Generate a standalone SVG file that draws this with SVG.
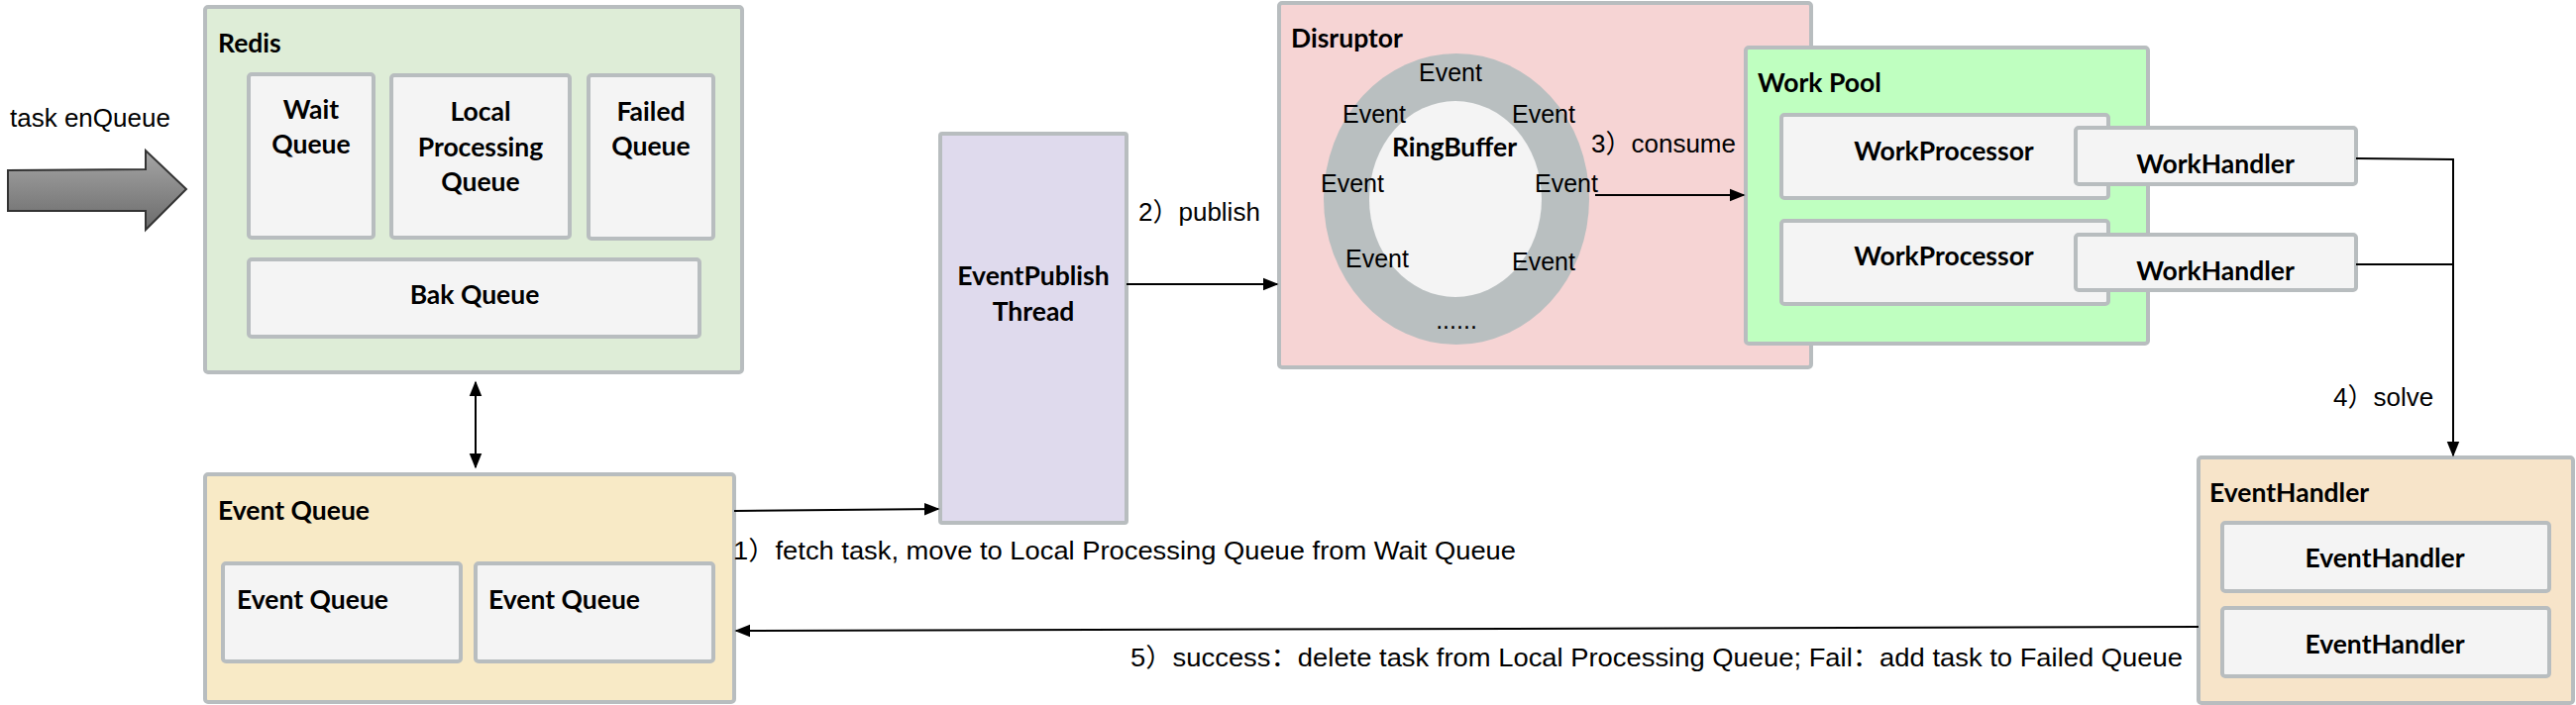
<svg xmlns="http://www.w3.org/2000/svg" width="2600" height="712" viewBox="0 0 2600 712">
<defs>
<linearGradient id="gArrow" x1="0" y1="0" x2="0" y2="1">
<stop offset="0" stop-color="#a6a6a6"/>
<stop offset="1" stop-color="#6b6b6b"/>
</linearGradient>
<marker id="ahb" viewBox="0 0 10 10" refX="9" refY="5" markerWidth="16" markerHeight="16" orient="auto-start-reverse" markerUnits="userSpaceOnUse">
<path d="M0,1 L10,5 L0,9 Z" fill="#000"/>
</marker>
</defs>
<style>
.box{stroke:#b8bdbf;stroke-width:4}
.inner{fill:#f4f4f4;stroke:#b8bdbf;stroke-width:4}
.t{font-family:Lato,"Noto Sans",sans-serif;font-weight:bold;font-size:26.5px;fill:#000}
.tc{text-anchor:middle}
.n{font-family:"Liberation Sans",Arial,"Noto Sans CJK SC",sans-serif;font-size:26px;fill:#000}
.ev{font-family:"Liberation Sans",Arial,sans-serif;font-size:25px;fill:#000}
.ln{fill:none;stroke:#000;stroke-width:2}
</style>
<rect width="2600" height="712" fill="#fff"/>

<g id="taskEnqueue">
<text class="n" x="10" y="128">task enQueue</text>
<path d="M8,172 L147,171 L147,152 L188,191 L147,232 L147,213 L8,213 Z" fill="url(#gArrow)" stroke="#333" stroke-width="2"/>
</g>

<g id="redis">
<rect class="box" x="207" y="7" width="542" height="369" rx="3" fill="#deedd7"/>
<text class="t" x="220" y="53">Redis</text>
<g id="waitQueue">
<rect class="inner" x="251" y="75" width="126" height="165" rx="3"/>
<text class="t tc" x="314" y="120">Wait</text>
<text class="t tc" x="314" y="155">Queue</text>
</g>
<g id="localProcessingQueue">
<rect class="inner" x="395" y="76" width="180" height="164" rx="3"/>
<text class="t tc" x="485" y="122">Local</text>
<text class="t tc" x="485" y="158">Processing</text>
<text class="t tc" x="485" y="193">Queue</text>
</g>
<g id="failedQueue">
<rect class="inner" x="594" y="76" width="126" height="165" rx="3"/>
<text class="t tc" x="657" y="122">Failed</text>
<text class="t tc" x="657" y="157">Queue</text>
</g>
<g id="bakQueue">
<rect class="inner" x="251" y="262" width="455" height="78" rx="3"/>
<text class="t tc" x="479" y="307">Bak Queue</text>
</g>
</g>

<g id="eventQueue">
<rect class="box" x="207" y="479" width="534" height="230" rx="3" fill="#f8eac6"/>
<text class="t" x="220" y="525">Event Queue</text>
<g id="eventQueue1">
<rect class="inner" x="225" y="569" width="240" height="99" rx="3"/>
<text class="t" x="239" y="615">Event Queue</text>
</g>
<g id="eventQueue2">
<rect class="inner" x="480" y="569" width="240" height="99" rx="3"/>
<text class="t" x="493" y="615">Event Queue</text>
</g>
</g>

<g id="eventPublishThread">
<rect class="box" x="949" y="135" width="188" height="393" rx="2" fill="#dfdaed"/>
<text class="t tc" x="1043" y="288">EventPublish</text>
<text class="t tc" x="1043" y="324">Thread</text>
</g>

<g id="disruptor">
<rect class="box" x="1291" y="3" width="537" height="368" rx="3" fill="#f6d4d4"/>
<text class="t" x="1303" y="48">Disruptor</text>
<g id="ringBuffer">
<ellipse cx="1470" cy="201" rx="134" ry="147" fill="#b9bfc0"/>
<ellipse cx="1469" cy="201" rx="87" ry="99" fill="#f4f4f4"/>
<text class="t tc" x="1468" y="158">RingBuffer</text>
<text class="ev tc" x="1464" y="82">Event</text>
<text class="ev" x="1355" y="124">Event</text>
<text class="ev" x="1526" y="124">Event</text>
<text class="ev" x="1333" y="194">Event</text>
<text class="ev" x="1549" y="194">Event</text>
<text class="ev" x="1358" y="270">Event</text>
<text class="ev" x="1526" y="273">Event</text>
<text class="ev tc" x="1470" y="332">......</text>
</g>
</g>

<g id="workPool">
<rect class="box" x="1762" y="48" width="406" height="299" rx="3" fill="#bfffc0"/>
<text class="t" x="1774" y="93">Work Pool</text>
<g id="workProcessor1">
<rect class="inner" x="1798" y="116" width="330" height="84" rx="3"/>
<text class="t tc" x="1962" y="162">WorkProcessor</text>
</g>
<g id="workHandler1">
<rect class="inner" x="2095" y="129" width="283" height="57" rx="3"/>
<text class="t tc" x="2236" y="175">WorkHandler</text>
</g>
<g id="workProcessor2">
<rect class="inner" x="1798" y="223" width="330" height="84" rx="3"/>
<text class="t tc" x="1962" y="268">WorkProcessor</text>
</g>
<g id="workHandler2">
<rect class="inner" x="2095" y="237" width="283" height="56" rx="3"/>
<text class="t tc" x="2236" y="283">WorkHandler</text>
</g>
</g>

<g id="eventHandler">
<rect class="box" x="2219" y="462" width="378" height="248" rx="3" fill="#f7e4c9"/>
<text class="t" x="2230" y="507">EventHandler</text>
<g id="eventHandler1">
<rect class="inner" x="2243" y="528" width="330" height="69" rx="3"/>
<text class="t tc" x="2407" y="573">EventHandler</text>
</g>
<g id="eventHandler2">
<rect class="inner" x="2243" y="614" width="330" height="69" rx="3"/>
<text class="t tc" x="2407" y="660">EventHandler</text>
</g>
</g>

<g id="connectors">
<line class="ln" x1="480" y1="386" x2="480" y2="472" marker-start="url(#ahb)" marker-end="url(#ahb)"/>
<line class="ln" x1="741" y1="516" x2="947" y2="514" marker-end="url(#ahb)"/>
<line class="ln" x1="1137" y1="287" x2="1289" y2="287" marker-end="url(#ahb)"/>
<line class="ln" x1="1610" y1="197" x2="1760" y2="197" marker-end="url(#ahb)"/>
<polyline class="ln" points="2378,160 2476,161 2476,460" marker-end="url(#ahb)"/>
<line class="ln" x1="2378" y1="267" x2="2476" y2="267"/>
<line class="ln" x1="2219" y1="633" x2="743" y2="637" marker-end="url(#ahb)"/>
<text class="n" x="1149" y="223">2）publish</text>
<text class="n" x="1606" y="154">3）consume</text>
<text class="n" x="2355" y="410">4）solve</text>
<text class="n" x="740" y="565" textLength="790" lengthAdjust="spacingAndGlyphs">1）fetch task, move to Local Processing Queue from Wait Queue</text>
<text class="n" x="1141" y="673" textLength="1062" lengthAdjust="spacingAndGlyphs">5）success：delete task  from Local Processing Queue; Fail：add task to Failed Queue</text>
</g>
</svg>
